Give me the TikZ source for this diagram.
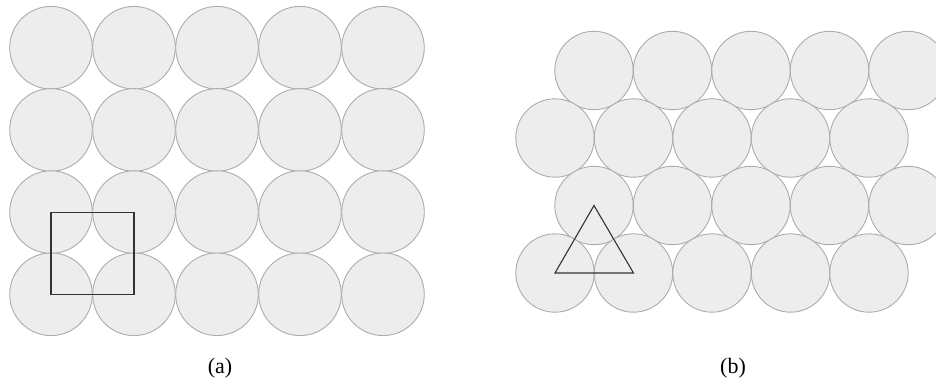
\documentclass[tikz,border=0pt]{standalone}
\usepackage{fontspec}
\setmainfont{Liberation Serif}
\usetikzlibrary{calc}

\begin{document}
\begin{tikzpicture}[x=1pt,y=-1pt,
    ball/.style={circle,draw=gray!65,fill=gray!14,line width=0.9pt,inner sep=0pt},
    cell/.style={draw=black!80,line width=1.1pt,line join=miter}]
        \useasboundingbox (0,0) rectangle (936,380);
        % (a) square packing
        \foreach \j in {1,...,4}{
            \foreach \i in {1,...,5}{
                \node[ball,minimum size=82.6pt](a-\j-\i)at({51+83*(\i-1)},{47.7+82.2*(\j-1)}){};
            }
        }
        \draw[cell](a-3-1.center)--(a-3-2.center)--(a-4-2.center)--(a-4-1.center)--cycle;
        % (b) hexagonal packing
        \foreach \j in {1,...,4}{
            \pgfmathsetmacro{\xs}{isodd(\j) ? 594 : 555}
            \foreach \i in {1,...,5}{
                \node[ball,minimum size=78.4pt](b-\j-\i)at({\xs+78.5*(\i-1)},{70.5+67.5*(\j-1)}){};
            }
        }
        \draw[cell](b-4-1.center)--(b-4-2.center)--(b-3-1.center)--cycle;
        % labels
        \node[font=\fontsize{22}{24}\selectfont](la)at(220,368){(a)};
        \node[font=\fontsize{22}{24}\selectfont](lb)at(733,368){(b)};
\end{tikzpicture}
\end{document}
